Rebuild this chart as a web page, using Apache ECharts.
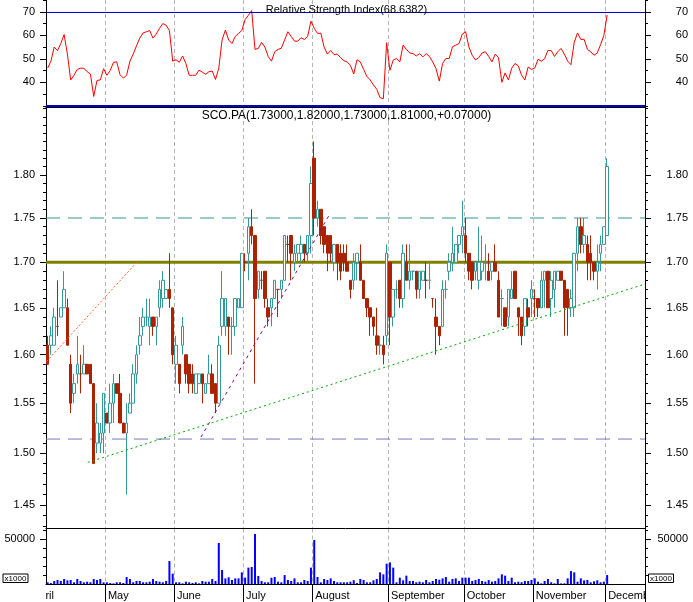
<!DOCTYPE html>
<html><head><meta charset="utf-8">
<script src="https://cdn.jsdelivr.net/npm/echarts@6/dist/echarts.min.js"></script>
<style>html,body{margin:0;padding:0;background:#fff}#c{width:693px;height:602px}</style>
</head><body><div id="c"></div><script>
// ---- data ----
const opens  = [1.61,1.61,1.61,1.63,1.64,1.65,1.65,1.59,1.56,1.58,1.58,1.58,1.59,1.59,1.57,1.51,1.51,1.52,1.54,1.53,
1.55,1.57,1.56,1.53,1.52,1.54,1.55,1.58,1.61,1.63,1.64,1.63,1.64,1.63,1.65,1.66,1.66,1.67,1.65,1.59,
1.59,1.61,1.60,1.59,1.58,1.56,1.57,1.58,1.56,1.57,1.58,1.57,1.55,1.63,1.63,1.64,1.63,1.63,1.65,1.65,
1.70,1.71,1.74,1.73,1.67,1.68,1.69,1.65,1.65,1.66,1.67,1.67,1.68,1.72,1.73,1.70,1.71,1.71,1.72,1.71,
1.73,1.82,1.75,1.76,1.74,1.73,1.73,1.70,1.72,1.71,1.71,1.70,1.68,1.68,1.70,1.70,1.68,1.66,1.65,1.64,
1.62,1.61,1.61,1.62,1.70,1.64,1.67,1.68,1.66,1.70,1.68,1.69,1.69,1.67,1.68,1.68,1.68,1.66,1.64,1.63,
1.63,1.67,1.69,1.70,1.70,1.72,1.73,1.73,1.71,1.70,1.69,1.68,1.69,1.70,1.69,1.69,1.70,1.68,1.66,1.65,
1.64,1.66,1.69,1.65,1.64,1.63,1.65,1.66,1.66,1.66,1.65,1.68,1.69,1.66,1.67,1.68,1.69,1.68,1.67,1.65,
1.65,1.71,1.74,1.72,1.72,1.71,1.70,1.69,1.71,1.72,1.73];
const highs  = [1.62,1.63,1.65,1.68,1.65,1.69,1.66,1.60,1.58,1.62,1.60,1.61,1.59,1.59,1.57,1.55,1.53,1.56,1.54,1.57,
1.58,1.57,1.58,1.53,1.55,1.56,1.59,1.61,1.64,1.65,1.66,1.66,1.64,1.64,1.68,1.69,1.67,1.71,1.65,1.62,
1.59,1.64,1.60,1.59,1.59,1.58,1.58,1.58,1.57,1.60,1.59,1.57,1.62,1.69,1.66,1.64,1.64,1.66,1.66,1.71,
1.71,1.75,1.76,1.73,1.69,1.69,1.69,1.66,1.66,1.68,1.67,1.68,1.73,1.73,1.73,1.72,1.72,1.73,1.72,1.73,
1.81,1.84,1.77,1.76,1.74,1.73,1.73,1.72,1.72,1.72,1.72,1.72,1.68,1.71,1.71,1.72,1.68,1.66,1.65,1.64,
1.65,1.62,1.62,1.72,1.70,1.67,1.68,1.68,1.72,1.72,1.72,1.69,1.69,1.69,1.69,1.70,1.70,1.66,1.66,1.63,
1.68,1.68,1.71,1.74,1.72,1.73,1.77,1.75,1.71,1.70,1.70,1.74,1.73,1.72,1.71,1.70,1.72,1.69,1.67,1.65,
1.67,1.69,1.69,1.65,1.64,1.66,1.66,1.68,1.67,1.66,1.69,1.69,1.69,1.69,1.69,1.69,1.69,1.68,1.67,1.67,
1.71,1.75,1.75,1.75,1.73,1.73,1.70,1.72,1.73,1.74,1.82];
const lows   = [1.59,1.60,1.61,1.62,1.64,1.65,1.61,1.54,1.55,1.57,1.56,1.58,1.58,1.57,1.49,1.50,1.50,1.50,1.53,1.52,
1.53,1.56,1.53,1.52,1.46,1.54,1.55,1.57,1.60,1.62,1.63,1.61,1.62,1.61,1.64,1.65,1.66,1.65,1.59,1.57,
1.56,1.60,1.57,1.56,1.56,1.56,1.57,1.55,1.56,1.57,1.56,1.54,1.55,1.62,1.62,1.60,1.60,1.62,1.65,1.65,
1.69,1.68,1.72,1.57,1.66,1.67,1.65,1.63,1.63,1.66,1.64,1.66,1.68,1.70,1.68,1.69,1.70,1.70,1.70,1.70,
1.71,1.73,1.74,1.72,1.71,1.69,1.70,1.69,1.68,1.68,1.69,1.69,1.66,1.67,1.68,1.68,1.66,1.64,1.62,1.62,
1.60,1.60,1.59,1.61,1.61,1.63,1.66,1.65,1.65,1.68,1.67,1.68,1.66,1.66,1.68,1.66,1.67,1.65,1.60,1.61,
1.63,1.66,1.68,1.69,1.70,1.71,1.71,1.70,1.68,1.67,1.68,1.67,1.68,1.68,1.68,1.68,1.69,1.64,1.63,1.63,
1.63,1.66,1.66,1.62,1.61,1.62,1.63,1.64,1.64,1.64,1.65,1.65,1.65,1.64,1.65,1.68,1.68,1.62,1.62,1.64,
1.64,1.69,1.71,1.71,1.68,1.68,1.68,1.67,1.69,1.72,1.73];
const closes = [1.59,1.62,1.64,1.63,1.65,1.67,1.61,1.55,1.57,1.59,1.58,1.59,1.58,1.57,1.49,1.53,1.52,1.56,1.53,1.55,
1.57,1.56,1.53,1.52,1.53,1.55,1.58,1.60,1.62,1.64,1.64,1.64,1.63,1.64,1.67,1.68,1.67,1.66,1.60,1.61,
1.57,1.63,1.58,1.57,1.57,1.58,1.58,1.57,1.57,1.58,1.56,1.55,1.61,1.66,1.66,1.63,1.63,1.66,1.66,1.71,
1.70,1.74,1.73,1.66,1.69,1.68,1.66,1.64,1.66,1.68,1.67,1.68,1.73,1.72,1.71,1.71,1.72,1.72,1.71,1.73,
1.79,1.75,1.76,1.73,1.72,1.71,1.71,1.72,1.70,1.69,1.70,1.69,1.67,1.70,1.71,1.68,1.66,1.65,1.64,1.63,
1.61,1.61,1.60,1.71,1.64,1.67,1.67,1.66,1.71,1.68,1.69,1.69,1.67,1.69,1.69,1.68,1.68,1.66,1.63,1.62,
1.67,1.67,1.70,1.71,1.72,1.73,1.74,1.71,1.69,1.68,1.70,1.70,1.70,1.70,1.68,1.70,1.69,1.64,1.66,1.63,
1.67,1.67,1.66,1.64,1.62,1.66,1.64,1.67,1.66,1.65,1.68,1.69,1.65,1.68,1.69,1.69,1.68,1.65,1.65,1.66,
1.71,1.74,1.72,1.73,1.70,1.70,1.69,1.70,1.72,1.74,1.81];
const rsi = [46,49,55,53.5,56.5,60.3,52,41,43,45.5,46,46,44.5,43.5,34,40.8,41,45.8,43,45,
48.5,48.7,43.2,41.8,43,49,52,55.5,58.8,61,61.5,62,58.8,60.5,63,65,64.3,62,49,49.6,
48.5,51.2,48,43,43,43,45.2,44.3,43.4,44.5,44.8,41.2,46,58,62.2,58,56.5,59.5,60.8,62,
66.7,68.5,70.5,54,54.4,57,55,51,49,53,54,54.5,58,61.5,59.5,57.5,57.5,59,58.2,59.5,
66,63,60.8,60.9,55,52,53.5,51.8,52,50.5,49.2,48.7,47.2,43.5,49.6,48.7,45.5,42.5,41,38.9,
37,33.5,33,56.8,45.1,49.4,50.1,48.7,55.8,54,52.5,52.2,51.2,52.2,50.8,52.2,51,48.7,45.8,40.5,
48,50.1,50.1,55.1,55.8,56.5,60.5,61.5,55,51.5,49.5,50.5,52.5,53,51,48.7,52,50.5,40,44,
41,46,48,47,43,41,46.5,45.5,46,49.8,49,50,53.6,53.5,51,53,54.4,52,49,47.5,
57,61,58.2,58.3,54,53,51.5,52.5,56,60,68.6];
const volume = [1900,1100,3400,4500,3400,5600,4100,4500,1900,5600,3400,1900,2600,1900,5600,4500,5600,1900,1900,1100,
700,1900,1900,1100,7800,5600,1900,3400,3400,1900,1900,2600,5600,3400,2600,1900,3400,25700,11600,1900,
1900,700,2600,1900,1100,1900,700,3400,2600,2600,5600,3400,45900,15700,6300,7500,4500,6300,6300,13000,
7100,18300,19000,56000,9000,3400,1900,1900,7000,7800,2600,1900,10000,4500,3400,6300,1900,1900,4500,3400,
18300,49200,7800,1900,5600,4500,6300,3400,1900,1900,1900,1900,2600,4300,1100,5600,4500,1900,1900,4100,
5600,13000,10800,22700,24200,18300,1900,7100,4100,9300,3400,3400,1900,2600,1900,4500,1900,3400,5600,4800,
6300,7800,2600,5600,6300,3400,7100,7100,7100,3400,4500,5600,3400,2600,4500,2600,3400,6300,10800,9300,
3400,7100,1900,2600,1900,3400,3400,4500,6300,2600,700,3400,5600,1900,700,5600,700,700,6300,14500,
13000,2600,6300,4100,4500,1900,3000,4100,1900,2600,10000];
const slotCount = 182;               // trading-day slots on the x axis (incl. empty future)
const monthNames = ['May','June','July','August','September','October','November','December'];
const monthStart = [18,39,60,81,104,127,148,170];
const priceLabels = [1.45,1.50,1.55,1.60,1.65,1.70,1.75,1.80];
const priceMinor = [1.43,1.44,1.46,1.47,1.48,1.49,1.51,1.52,1.53,1.54,1.56,1.57,1.58,1.59,1.61,1.62,1.63,1.64,
  1.66,1.67,1.68,1.69,1.71,1.72,1.73,1.74,1.76,1.77,1.78,1.79,1.81,1.82,1.83,1.84,1.85,1.86,1.87,1.88];
const rsiLabels = [40,50,60,70];
const rsiMinor = [30,35,45,55,65,75];
const volLabels = [50000];
const volMinor = [10000,20000,30000,40000,60000];
const levelOlive = 1.70, levelTeal = 1.75, levelLav = 1.514;
const rsiUpper = 70, rsiLower = 30;
const trendOrange = [[-0.3,1.593],[27.1,1.700]];
const trendPurple = [[46.6,1.516],[85.8,1.755]];
const trendGreen  = [[12.2,1.491],[180.7,1.675]];

// ---- chart ----
const FONT = 'Liberation Sans, Arial, sans-serif';
const TEAL = '#339999', RED = '#aa2200';
const L = Math.log;
const slots = Array.from({length: slotCount}, (_, i) => String(i));
const isMonth = (i) => monthStart.indexOf(i) >= 0;
const gridLine = {show: true, interval: (i) => isMonth(i), lineStyle: {color: '#b4b4b4', type: [4, 3], width: 1}};

function catAxis(g, extra) {
  return Object.assign({
    type: 'category', gridIndex: g, data: slots, boundaryGap: true,
    axisLine: {show: true, lineStyle: {color: '#000', width: 1}},
    axisTick: {show: false}, axisLabel: {show: false}, splitLine: gridLine
  }, extra || {});
}
function yAx(g, pos, min, max, ticks, len, labels, fmt, showLine) {
  const right = pos === 'right';
  return {
    type: 'value', gridIndex: g, position: pos, min: min, max: max, scale: true,
    axisLine: {show: !!showLine, onZero: false, lineStyle: {color: '#000', width: 1}},
    axisTick: {show: true, length: len, customValues: ticks, lineStyle: {color: '#000'}},
    axisLabel: labels ? {show: true, customValues: labels, formatter: fmt || ((v) => String(v)), color: '#000',
      fontSize: 11, fontFamily: FONT, margin: right ? 43 : 11, align: 'right'} : {show: false},
    splitLine: {show: false}
  };
}
const priceMin = L(1.427805), priceMax = L(1.88202);
const pf = (v) => Math.exp(v).toFixed(2);
const lnArr = (a) => a.map(L);

const chart = echarts.init(document.getElementById('c'), null, {renderer: 'canvas'});
const candles = opens.map((o, i) => [L(o), L(closes[i]), L(lows[i]), L(highs[i])]);
const overlay = (pts, color, dash, width, z) => ({
  type: 'line', xAxisIndex: 3, yAxisIndex: 4, data: pts.map(p => [p[0], L(p[1])]),
  symbol: 'none', silent: true, z: z, lineStyle: {color: color, width: width, type: dash}
});
const level = (v) => [[-0.5, v], [slotCount - 0.5, v]];

chart.setOption({
  animation: false,
  backgroundColor: '#fff',
  grid: [
    {left: 46, right: 48, top: 0, height: 107},
    {left: 46, right: 48, top: 107, height: 421.5},
    {left: 46, right: 48, top: 528.5, height: 55.5}
  ],
  xAxis: [
    catAxis(0),
    catAxis(1),
    catAxis(2, {
      axisTick: {show: true, interval: (i) => isMonth(i), length: 18, lineStyle: {color: '#000'}},
      axisLabel: {show: true, interval: (i) => isMonth(i),
        formatter: (v) => monthNames[monthStart.indexOf(Number(v))] || '',
        align: 'left', margin: 6, color: '#000', fontSize: 11, fontFamily: FONT, padding: [0, 0, 0, 1]}
    }),
    {type: 'value', gridIndex: 1, min: -0.5, max: slotCount - 0.5, show: false}
  ],
  yAxis: [
    yAx(0, 'left', 29.5, 75, rsiLabels, 6, rsiLabels, null, true),
    yAx(0, 'left', 29.5, 75, rsiMinor, 3),
    yAx(0, 'right', 29.5, 75, rsiLabels, 6, rsiLabels, null, true),
    yAx(0, 'right', 29.5, 75, rsiMinor, 3),
    yAx(1, 'left', priceMin, priceMax, lnArr(priceLabels), 6, lnArr(priceLabels), pf, true),
    yAx(1, 'left', priceMin, priceMax, lnArr(priceMinor), 3),
    yAx(1, 'right', priceMin, priceMax, lnArr(priceLabels), 6, lnArr(priceLabels), pf, true),
    yAx(1, 'right', priceMin, priceMax, lnArr(priceMinor), 3),
    yAx(2, 'left', 0, 62080, volLabels, 6, volLabels, null, true),
    yAx(2, 'left', 0, 62080, volMinor, 3),
    yAx(2, 'right', 0, 62080, volLabels, 6, volLabels, null, true),
    yAx(2, 'right', 0, 62080, volMinor, 3)
  ],
  series: [
    {
      type: 'line', name: 'RSI', xAxisIndex: 0, yAxisIndex: 0, data: rsi,
      symbol: 'none', lineStyle: {color: '#ff0000', width: 1}, z: 3,
      markLine: {silent: true, symbol: 'none', label: {show: false}, data: [
        {yAxis: rsiUpper, lineStyle: {color: '#0000c8', width: 1, type: 'solid'}},
        {yAxis: rsiLower, lineStyle: {color: '#0000c8', width: 2, type: 'solid'}}
      ]}
    },
    overlay(level(levelOlive), '#808000', 'solid', 3, 2),
    overlay(level(levelTeal), TEAL, [14, 8], 1, 2),
    overlay(level(levelLav), '#7b7bb8', [14, 8], 1, 2),
    {
      type: 'candlestick', name: 'SCO.PA', xAxisIndex: 1, yAxisIndex: 4, data: candles,
      barWidth: 3, z: 3,
      itemStyle: {color: '#ffffff', color0: RED, borderColor: TEAL, borderColor0: RED, borderWidth: 1}
    },
    overlay(trendOrange, '#ff6622', [2, 2], 1, 4),
    overlay(trendPurple, '#880088', [3, 4], 1, 4),
    overlay(trendGreen, '#00aa00', [2, 3], 1, 4),
    {
      type: 'bar', name: 'Volume', xAxisIndex: 2, yAxisIndex: 8, data: volume,
      barWidth: 2, itemStyle: {color: '#0000ff'}
    }
  ],
  graphic: [
    {type: 'text', left: 'center', top: 4, z: 50, style: {text: 'Relative Strength Index(68.6382)', font: '11px ' + FONT, fill: '#000'}},
    {type: 'text', left: 'center', top: 109.5, z: 50, style: {text: 'SCO.PA(1.73000,1.82000,1.73000,1.81000,+0.07000)', font: '12px ' + FONT, fill: '#000'}},
    {type: 'text', x: 32, y: 590, z: 40, style: {text: 'April', font: '11px ' + FONT, fill: '#000'}},
    {type: 'rect', z: 60, shape: {x: 0, y: 585, width: 45.5, height: 17}, style: {fill: '#fff'}},
    {type: 'rect', z: 60, shape: {x: 646, y: 585, width: 47, height: 17}, style: {fill: '#fff'}},
    {type: 'rect', z: 70, shape: {x: 3, y: 574, width: 25, height: 8.5}, style: {fill: '#fff', stroke: '#000', lineWidth: 1}},
    {type: 'text', z: 71, x: 15.5, y: 578.5, style: {text: 'x1000', font: '8px ' + FONT, fill: '#000', align: 'center', verticalAlign: 'middle'}},
    {type: 'rect', z: 70, shape: {x: 648.5, y: 574, width: 25, height: 8.5}, style: {fill: '#fff', stroke: '#000', lineWidth: 1}},
    {type: 'text', z: 71, x: 661, y: 578.5, style: {text: 'x1000', font: '8px ' + FONT, fill: '#000', align: 'center', verticalAlign: 'middle'}}
  ]
});
</script></body></html>
